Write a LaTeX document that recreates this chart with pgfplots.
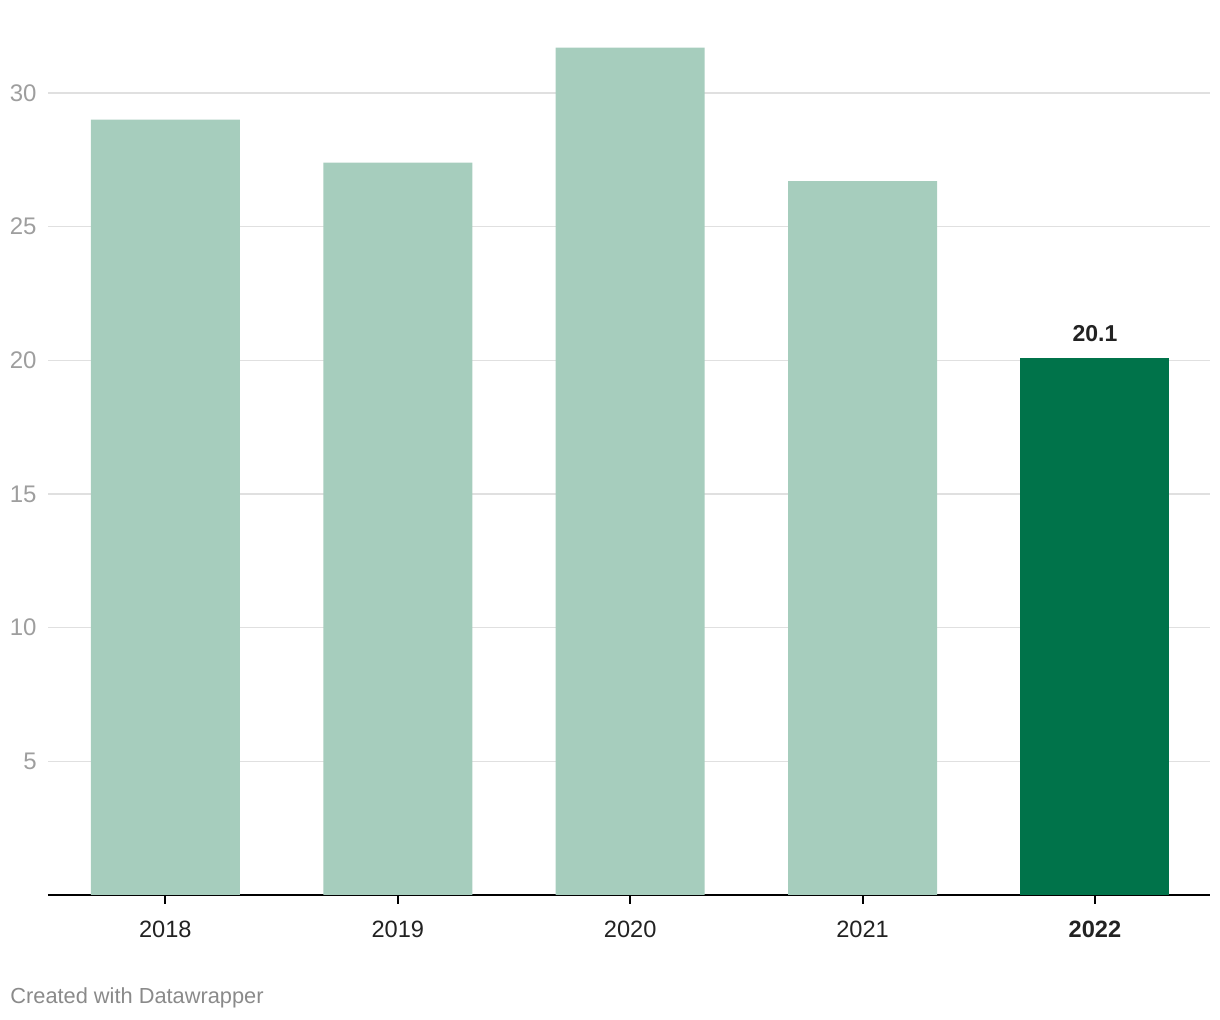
\documentclass[border=0pt]{standalone}
\usepackage{pgfplots}
\pgfplotsset{compat=1.18}
\usepackage{fontspec}
\setmainfont{Liberation Sans}
\definecolor{barlight}{HTML}{A6CDBD}
\definecolor{bardark}{HTML}{00734A}
\definecolor{gridc}{HTML}{E0E0E0}
\definecolor{ylab}{HTML}{9E9E9E}
\definecolor{xlab}{HTML}{222222}
\definecolor{credit}{HTML}{8A8A8A}
\begin{document}
\begin{tikzpicture}
\useasboundingbox (-24pt,-62.5pt) rectangle (586pt,447.5pt);
\begin{axis}[
  at={(0,0)}, anchor=south west,
  scale only axis,
  width=581pt, height=447.5pt,
  xmin=-0.505, xmax=4.495,
  ymin=0, ymax=33.48,
  ybar, bar width=74.5pt, bar shift=0pt,
  separate axis lines,
  axis x line*=bottom,
  axis y line*=left,
  x axis line style={-, black, line width=1pt},
  y axis line style={draw=none},
  xtick={0,1,2,3,4},
  xticklabels={2018,2019,2020,2021,\textbf{2022}},
  ytick={5,10,15,20,25,30},
  ymajorgrids,
  grid style={gridc, line width=0.65pt},
  tick align=outside,
  major tick length=4.5pt,
  xtick style={black, line width=1pt},
  ytick style={draw=none},
  /pgf/number format/assume math mode=true,
  yticklabel style={font=\fontsize{12}{14}\selectfont, text=ylab, anchor=east, inner sep=0pt, xshift=-1pt},
  xticklabel style={font=\fontsize{11.8}{14}\selectfont, text=xlab, anchor=north, inner sep=0pt, yshift=-8.5pt},
  clip=false,
]
\addplot[fill=barlight, draw=none] coordinates {(0,29.0) (1,27.4) (2,31.7) (3,26.7)};
\addplot[fill=bardark, draw=none,
  nodes near coords,
  nodes near coords style={font=\fontsize{11.5}{14}\selectfont\bfseries, text=xlab, anchor=south, inner sep=0pt, yshift=8pt},
  point meta=explicit symbolic] coordinates {(4,20.1) [20.1]};
\node[anchor=base west, inner sep=0pt, font=\fontsize{10.9}{12}\selectfont, text=credit] at (rel axis cs:0,0) [xshift=-19pt, yshift=-54.5pt] {Created with Datawrapper};
\end{axis}
\end{tikzpicture}
\end{document}
